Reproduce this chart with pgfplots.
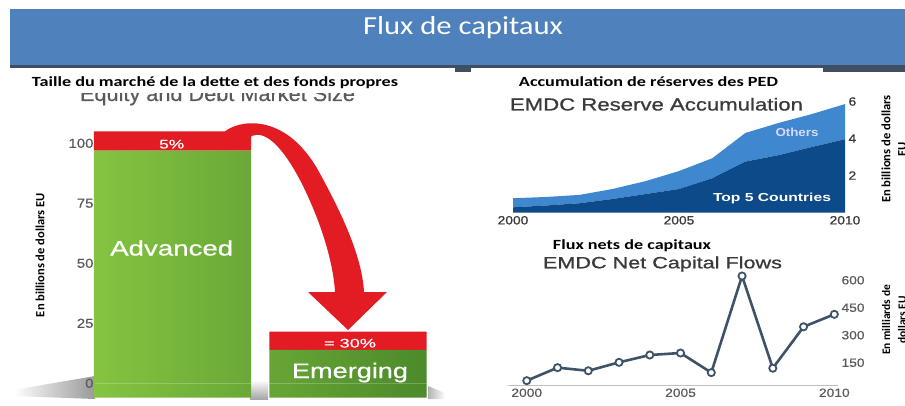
\documentclass[border=0pt]{standalone}
\usepackage{pgfplots}
\pgfplotsset{compat=1.18}
\usepackage{fontspec}
\usepackage{graphicx}
\setmainfont{Liberation Sans}
\newfontfamily\calibri{Carlito}
\newfontfamily\heavy[FakeBold=0.8]{Liberation Sans}
\newfontfamily\medium[FakeBold=0.4]{Liberation Sans}
\newcommand\fw[2]{\resizebox{#1}{\height}{#2}}
\newcommand\fs[1]{\fontsize{#1}{#1}\selectfont}
\newcommand\hs[1]{\scalebox{1.15}[1]{#1}}
\definecolor{banner}{HTML}{4F81BD}
\definecolor{strip}{HTML}{3F4F63}
\definecolor{grnL}{HTML}{84C441}
\definecolor{grnD}{HTML}{4C8A2B}
\definecolor{redb}{HTML}{E31B23}
\definecolor{resD}{HTML}{0C4A8A}
\definecolor{resL}{HTML}{3F87CF}
\definecolor{lineC}{HTML}{3E5367}
\definecolor{tickG}{HTML}{5A5A5A}
\definecolor{titG}{HTML}{3A3A3A}
\pgfplotsset{/pgf/number format/assume math mode=true}
\begin{document}
\begin{tikzpicture}[x=1pt,y=1pt]
\path[use as bounding box] (0,0) rectangle (905,405);
\fill[white] (0,0) rectangle (905,405);
% ground shadows
\begin{scope}[shift={(0,405)}, yscale=-1]
 \shade[left color=white, right color=black!40] (13,390) -- (95,376) -- (95,399) -- (13,396) -- cycle;
 \shade[top color=white, bottom color=black!35] (250,380) rectangle (268,399);
 \shade[left color=black!30, right color=white] (428,386) -- (445,393) -- (445,399) -- (428,399) -- cycle;
\end{scope}

% ---------- Equity and debt market size ----------
\begin{axis}[
  at={(95pt,7.3pt)}, anchor=south west, scale only axis,
  width=335pt, height=283.2pt,
  xmin=-0.4416, xmax=1.4672, ymin=-6, ymax=112,
  ybar stacked, bar width=0.897,
  axis line style={draw=none}, major tick length=0pt,
  xtick=\empty, ytick={0,25,50,75,100},
  yticklabel={\hs{\pgfmathprintnumber{\tick}}},
  yticklabel style={font=\medium\fs{13}, text=tickG, anchor=east, xshift=2pt},
  clip=false,
]
\addplot[draw=none, left color=grnL, right color=grnD] coordinates {(0,-6) (1,-6)};
\addplot[draw=none, left color=grnL, right color=grnD] coordinates {(0,97) (1,13.9)};
\addplot[fill=redb, draw=none] coordinates {(0,8) (1,7.6)};
\end{axis}

% ---------- EMDC reserve accumulation ----------
\begin{axis}[
  at={(513pt,192.5pt)}, anchor=south west, scale only axis,
  width=332pt, height=114.7pt,
  xmin=2000, xmax=2010, ymin=0, ymax=6.2,
  stack plots=y,
  axis line style={draw=none}, major tick length=0pt,
  xtick={2000,2005,2010}, xticklabels={\hs{2000},\hs{2005},\hs{2010}},
  ytick={2,4,6}, yticklabel pos=right,
  yticklabel={\hs{\pgfmathprintnumber{\tick}}},
  ticklabel style={font=\heavy\fs{12}, text=titG},
  clip=false,
]
\addplot[fill=resD, draw=none] coordinates {(2000,0.28) (2001,0.38) (2002,0.50) (2003,0.73) (2004,1.00) (2005,1.27) (2006,1.85) (2007,2.75) (2008,3.10) (2009,3.54) (2010,3.96)} \closedcycle;
\addplot[fill=resL, draw=none] coordinates {(2000,0.49) (2001,0.46) (2002,0.45) (2003,0.54) (2004,0.70) (2005,0.97) (2006,1.08) (2007,1.55) (2008,1.74) (2009,1.78) (2010,1.90)} \closedcycle;
\end{axis}

% ---------- EMDC net capital flows ----------
\begin{axis}[
  at={(508pt,20pt)}, anchor=south west, scale only axis,
  width=330pt, height=112.1pt,
  xmin=1999.39, xmax=2010.12, ymin=28.4, ymax=640,
  axis line style={draw=none}, major tick length=0pt,
  xtick={2000,2005,2010}, xticklabels={\hs{2000},\hs{2005},\hs{2010}},
  ytick={150,300,450,600}, yticklabel pos=right,
  yticklabel={\hs{\pgfmathprintnumber{\tick}}},
  ticklabel style={font=\medium\fs{12}, text=tickG},
  clip=false,
]
\draw[black!25, line width=1pt] (rel axis cs:0,0) -- (rel axis cs:1,0);
\addplot[lineC, line width=2.6pt, mark=*, mark size=3.6pt,
  mark options={fill=white, draw=lineC, line width=1.8pt}]
  coordinates {(2000,52) (2001,123) (2002,106) (2003,152) (2004,192) (2005,203) (2006,96) (2007,623) (2008,120) (2009,346) (2010,414)};
\end{axis}

% ---------- slide decorations and texts (pixel coordinates, y down) ----------
\begin{scope}[shift={(0,405)}, yscale=-1]
 % banner
 \fill[banner] (10,9) rectangle (905,65);
 \fill[strip] (10,65) rectangle (905,72);
 \node[anchor=base, text=white, inner sep=0] at (463,35) {\fw{200pt}{\calibri\fs{26}Flux de capitaux}};
 % left panel titles
 \node[anchor=base, text=tickG, inner sep=0] at (217.5,101) {\fw{275pt}{\medium\fs{21}Equity and Debt Market Size}};
 \fill[white] (10,68) rectangle (455,93.5);
 \fill[white] (471,68) rectangle (823,92);
 \node[anchor=base, inner sep=0] at (215,86.5) {\fw{366pt}{\calibri\bfseries\fs{14}Taille du marché de la dette et des fonds propres}};
 % arrow
 \fill[redb] (223,133) .. controls (238,119) and (285,112) .. (318,170)
   .. controls (340,210) and (362,255) .. (364,292) -- (387,292) -- (348,330) -- (308,292) -- (335,292)
   .. controls (333,258) and (318,215) .. (300,180) .. controls (283,148) and (265,128) .. (250,137) -- cycle;
 % bar texts
 \node[anchor=base, text=white, inner sep=0] at (171.7,255.5) {\fw{123pt}{\medium\fs{21}Advanced}};
 \node[anchor=base, text=white, inner sep=0] at (350,378) {\fw{116pt}{\medium\fs{21}Emerging}};
 \node[anchor=base, text=white, inner sep=0] at (171.7,148.5) {\fw{25pt}{\medium\fs{12.5}5\%}};
 \node[anchor=base, text=white, inner sep=0] at (350,347.5) {\fw{52pt}{\medium\fs{12.5}= 30\%}};
 \node[rotate=90, inner sep=0] at (40,255) {\fw{124pt}{\calibri\bfseries\fs{12.5}En billions de dollars EU}};
 % right panel titles
 \node[anchor=base, inner sep=0] at (648.5,86.5) {\fw{259pt}{\calibri\bfseries\fs{14}Accumulation de réserves des PED}};
 \node[anchor=base, text=titG, inner sep=0] at (656.5,110.5) {\fw{293pt}{\heavy\fs{17.5}EMDC Reserve Accumulation}};
 \node[anchor=base, text=white!85!blue, inner sep=0] at (797,137) {\fw{43pt}{\bfseries\fs{11.6}Others}};
 \node[anchor=base, text=white, inner sep=0] at (772,201) {\fw{118pt}{\bfseries\fs{11.6}Top 5 Countries}};
 \node[anchor=base, inner sep=0] at (632,249.5) {\fw{158pt}{\calibri\bfseries\fs{14}Flux nets de capitaux}};
 \node[anchor=base, text=titG, inner sep=0] at (662.5,268.3) {\fw{239pt}{\heavy\fs{16.3}EMDC Net Capital Flows}};
 \node[rotate=90, align=center, inner sep=0, font=\calibri\bfseries\fontsize{12.6}{16}\selectfont] at (894,149) {En billions de dollars\\EU};
 \node[rotate=90, align=center, inner sep=0, font=\calibri\bfseries\fontsize{11.5}{16}\selectfont] at (894,320) {En milliards de\\dollars EU};
\end{scope}
\end{tikzpicture}
\end{document}
